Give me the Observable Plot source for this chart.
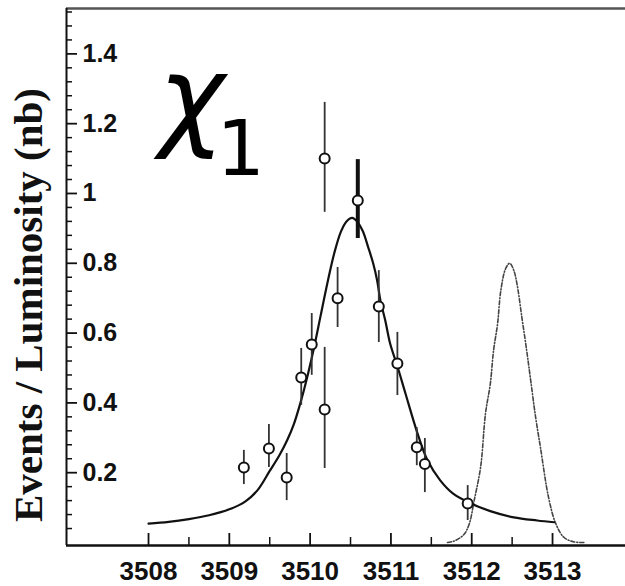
<!DOCTYPE html>
<html>
<head>
<meta charset="utf-8">
<script src="https://cdn.jsdelivr.net/npm/d3@7"></script>
<script src="https://cdn.jsdelivr.net/npm/@observablehq/plot@0.6"></script>
<style>
  html, body { margin: 0; padding: 0; background: #fff; }
  svg { display: block; }
</style>
</head>
<body>
<script>
// ---- data ----
const pointX    = [3509.18, 3509.49, 3509.71, 3509.89, 3510.02, 3510.18, 3510.18, 3510.34, 3510.59, 3510.85, 3511.08, 3511.32, 3511.42, 3511.95];
const pointY    = [0.215, 0.269, 0.186, 0.473, 0.567, 0.381, 1.100, 0.700, 0.980, 0.676, 0.513, 0.273, 0.225, 0.112];
const pointLow  = [0.166, 0.215, 0.120, 0.393, 0.479, 0.212, 0.946, 0.616, 0.871, 0.573, 0.421, 0.220, 0.143, 0.063];
const pointHigh = [0.264, 0.338, 0.255, 0.556, 0.656, 0.559, 1.261, 0.788, 1.097, 0.779, 0.602, 0.329, 0.298, 0.163];
const pointThick = [false, false, false, false, false, false, false, false, true, false, false, false, false, false];

const fitX = [3508.00, 3508.25, 3508.50, 3508.75, 3509.00, 3509.20, 3509.35, 3509.50, 3509.62, 3509.72, 3509.80, 3509.88, 3509.96, 3510.05, 3510.13, 3510.22, 3510.30, 3510.38, 3510.45, 3510.52, 3510.58, 3510.65, 3510.72, 3510.78, 3510.83, 3510.87, 3510.93, 3510.99, 3511.08, 3511.18, 3511.33, 3511.45, 3511.61, 3511.77, 3511.99, 3512.23, 3512.52, 3512.81, 3513.02];
const fitY = [0.054, 0.059, 0.067, 0.078, 0.095, 0.118, 0.150, 0.205, 0.250, 0.295, 0.340, 0.400, 0.470, 0.560, 0.650, 0.750, 0.830, 0.890, 0.920, 0.930, 0.920, 0.893, 0.845, 0.800, 0.750, 0.693, 0.636, 0.570, 0.505, 0.427, 0.312, 0.237, 0.178, 0.140, 0.112, 0.090, 0.072, 0.063, 0.058];

const psiX = [3511.70, 3511.78, 3511.90, 3511.97, 3512.03, 3512.11, 3512.17, 3512.23, 3512.27, 3512.32, 3512.36, 3512.42, 3512.47, 3512.52, 3512.56, 3512.62, 3512.68, 3512.73, 3512.79, 3512.85, 3512.95, 3513.04, 3513.14, 3513.26, 3513.40];
const psiY = [0.000, 0.004, 0.022, 0.054, 0.120, 0.216, 0.369, 0.455, 0.550, 0.627, 0.722, 0.785, 0.800, 0.780, 0.741, 0.646, 0.550, 0.464, 0.360, 0.273, 0.130, 0.054, 0.015, 0.002, 0.000];

const xTickValues = [3508, 3509, 3510, 3511, 3512, 3513];
const xTickLabels = ["3508", "3509", "3510", "3511", "3512", "3513"];
const xMinorTicks = [3508.5, 3509.5, 3510.5, 3511.5, 3512.5];
const yTickValues = [0.2, 0.4, 0.6, 0.8, 1.0, 1.2, 1.4];
const yTickLabels = ["0.2", "0.4", "0.6", "0.8", "1", "1.2", "1.4"];
const yMinorTicks = [0.04, 0.08, 0.12, 0.16, 0.24, 0.28, 0.32, 0.36, 0.44, 0.48, 0.52, 0.56, 0.64, 0.68, 0.72, 0.76, 0.84, 0.88, 0.92, 0.96, 1.04, 1.08, 1.12, 1.16, 1.24, 1.28, 1.32, 1.36, 1.44, 1.48, 1.52];
const yTitle = "Events / Luminosity (nb)";
const peakLabel = "χ";
const peakSub = "1";

// ---- tables ----
const points = pointX.map((x, i) => ({x, y: pointY[i], lo: pointLow[i], hi: pointHigh[i], thick: pointThick[i]}));
const fit = fitX.map((x, i) => ({x, y: fitY[i]}));
const psi = psiX.map((x, i) => ({x, y: psiY[i]}));

const W = 625, H = 586;
const mL = 66, mR = 0, mT = 8, mB = 41;
const innerW = W - mL - mR, innerH = H - mT - mB;
const xDom = [3506.985, 3513.903];
const yDom = [-0.0086, 1.530];

const plot = Plot.plot({
  width: W, height: H,
  marginLeft: mL, marginRight: mR, marginTop: mT, marginBottom: mB,
  x: {domain: xDom, axis: null},
  y: {domain: yDom, axis: null},
  style: {background: "#fff", fontFamily: "'Liberation Sans', Arial, sans-serif", overflow: "visible"},
  marks: [
    // frame lines
    Plot.ruleY([yDom[1]], {stroke: "#555", strokeWidth: 2.5}),
    Plot.ruleX([xDom[0]], {stroke: "#111", strokeWidth: 2}),
    Plot.ruleY([yDom[0]], {stroke: "#111", strokeWidth: 2.5}),
    // y ticks (inward)
    Plot.tickY(yTickValues, {y: d => d, insetRight: innerW - 11, stroke: "#111", strokeWidth: 1.8}),
    Plot.tickY(yMinorTicks, {y: d => d, insetRight: innerW - 6, stroke: "#111", strokeWidth: 1.5}),
    // x ticks (inward)
    Plot.tickX(xTickValues, {x: d => d, insetTop: innerH - 12, stroke: "#111", strokeWidth: 1.8}),
    Plot.tickX(xMinorTicks, {x: d => d, insetTop: innerH - 8, stroke: "#111", strokeWidth: 1.5}),
    // y tick labels (inside frame)
    Plot.text(yTickValues, {y: d => d, frameAnchor: "left", dx: 16, textAnchor: "start", text: (d, i) => yTickLabels[i], fontSize: 25, fontWeight: "bold", fill: "#111"}),
    // x tick labels
    Plot.text(xTickValues, {x: d => d, frameAnchor: "bottom", dy: 26, lineAnchor: "middle", textAnchor: "middle", text: (d, i) => xTickLabels[i], fontSize: 26, fontWeight: "bold", fill: "#111"}),
    // y title
    Plot.text([yTitle], {frameAnchor: "left", dx: -38, dy: 28, rotate: -90, textAnchor: "middle", lineAnchor: "middle", text: d => d, fontSize: 41, fontWeight: "bold", fontFamily: "'Liberation Serif', 'Times New Roman', serif", fill: "#111"}),
    // dashed psi' curve
    Plot.line(psi, {x: "x", y: "y", curve: "catmull-rom", stroke: "#444", strokeWidth: 1.6, strokeDasharray: "4,2,1,2"}),
    // fit curve
    Plot.line(fit, {x: "x", y: "y", curve: "catmull-rom", stroke: "#111", strokeWidth: 2.2}),
    // error bars
    Plot.ruleX(points.filter(d => !d.thick), {x: "x", y1: "lo", y2: "hi", stroke: "#333", strokeWidth: 1.8}),
    Plot.ruleX(points.filter(d => d.thick), {x: "x", y1: "lo", y2: "hi", stroke: "#111", strokeWidth: 4}),
    // points
    Plot.dot(points, {x: "x", y: "y", r: 5, fill: "#fff", stroke: "#111", strokeWidth: 2}),
    // chi_1 label
    Plot.text([peakLabel], {frameAnchor: "top-left", dx: 92, dy: 92, textAnchor: "start", lineAnchor: "middle", text: d => d, fontSize: 112, fontStyle: "italic", fontFamily: "'DejaVu Sans', sans-serif", fill: "#000"}),
    Plot.text([peakSub], {frameAnchor: "top-left", dx: 150, dy: 142, textAnchor: "start", lineAnchor: "middle", text: d => d, fontSize: 76, fontFamily: "'DejaVu Sans', sans-serif", fill: "#000"})
  ]
});
document.body.append(plot);
</script>
</body>
</html>
